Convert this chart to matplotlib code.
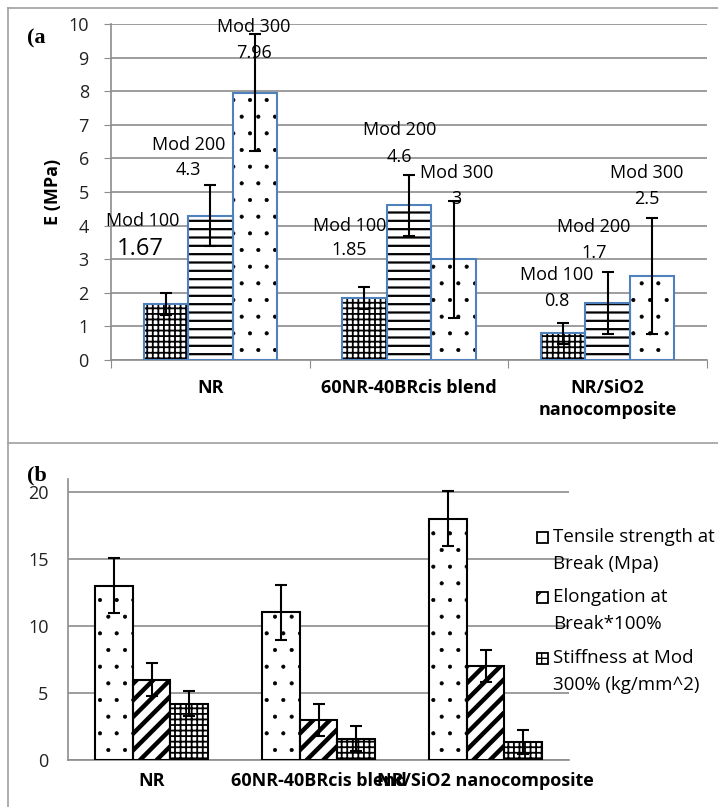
import numpy as np
import matplotlib.pyplot as plt
from matplotlib.patches import Rectangle
from matplotlib.lines import Line2D

plt.rcParams['font.family'] = ['Open Sans', 'DejaVu Sans']

W, H = 718, 807

# (a) 模量数据
groups_a = ['NR', '60NR-40BRcis blend', 'NR/SiO2\nnanocomposite']
mod_names = ['Mod 100', 'Mod 200', 'Mod 300']
mod100 = [1.67, 1.85, 0.8]
mod200 = [4.3, 4.6, 1.7]
mod300 = [7.96, 3, 2.5]
mod100_err = [0.32, 0.32, 0.31]
mod200_err = [0.92, 0.92, 0.92]
mod300_err = [1.75, 1.74, 1.74]
mod_values = ['1.67', '1.85', '0.8', '4.3', '4.6', '1.7', '7.96', '3', '2.5']

# (b) 拉伸数据
groups_b = ['NR', '60NR-40BRcis blend', 'NR/SiO2 nanocomposite']
tensile = [13, 11, 18]
elong = [6, 3, 7]
stiff = [4.2, 1.6, 1.35]
tensile_err = [2.07, 2.07, 2.07]
elong_err = [1.2, 1.2, 1.2]
stiff_err = [0.93, 0.93, 0.9]
legend_b = [['Tensile strength at', 'Break (Mpa)'], ['Elongation at', 'Break*100%'],
            ['Stiffness at Mod', '300% (kg/mm^2)']]

# label placement for (a): (x name, y name, x value, y value), order series-major
lab_pos = [(-0.34, 4.14, -0.354, 3.3), (0.70, 3.99, 0.70, 3.27), (1.744, 2.53, 1.744, 1.76),
           (-0.11, 6.4, -0.11, 5.65), (0.954, 6.85, 0.954, 6.04), (1.93, 3.96, 1.93, 3.18),
           (0.22, 9.91, 0.22, 9.14), (1.24, 5.57, 1.24, 4.79), (2.197, 5.57, 2.197, 4.79)]

grid_c = '#8c8c8c'
blue = '#4F81BD'
bw = 0.224
offs = [-bw, 0, bw]


def hatched_bar(ax, x, y, hatch, edge, hlw, lw):
    bars = ax.bar(x, y, bw, color='white', edgecolor='black', hatch=hatch, linewidth=0, zorder=2)
    for b in bars:
        try:
            b.set_hatch_linewidth(hlw)
        except AttributeError:
            pass
    ax.bar(x, y, bw, color='none', edgecolor=edge, linewidth=lw, zorder=3)


fig = plt.figure(figsize=(W / 100, H / 100), dpi=100)

# 边框
fig.add_artist(Line2D([8 / W, 8 / W], [0, 1 - 8 / H], color='#a0a0a0', lw=1.2))
fig.add_artist(Line2D([8 / W, 1], [1 - 8 / H, 1 - 8 / H], color='#a0a0a0', lw=1.2))
fig.add_artist(Line2D([8 / W, 1], [1 - 443 / H, 1 - 443 / H], color='#a0a0a0', lw=1.2))

# ---------- (a) ----------
ax1 = fig.add_axes([111 / W, 1 - 360 / H, 596 / W, 336 / H])
x = np.arange(3)
for i, (vals, err, h, hl) in enumerate(zip([mod100, mod200, mod300],
                                           [mod100_err, mod200_err, mod300_err],
                                           ['+++', '--', '.'], [1.3, 1.6, 0.5])):
    hatched_bar(ax1, x + offs[i], vals, h, blue, hl, 1.5)
    ax1.errorbar(x + offs[i], vals, yerr=err, fmt='none', ecolor='black',
                 elinewidth=1.5, capsize=4, capthick=1.5, zorder=4)

for k, (xn, yn, xv, yv) in enumerate(lab_pos):
    ax1.text(xn, yn, mod_names[k // 3], ha='center', va='center', fontsize=13, zorder=5)
    fs = 17 if k == 0 else 13
    ax1.text(xv, yv, mod_values[k], ha='center', va='center', fontsize=fs, zorder=5)

ax1.set_xlim(-0.5, 2.5)
ax1.set_ylim(0, 10)
ax1.set_yticks(range(0, 11))
ax1.yaxis.grid(True, color=grid_c, lw=1.2)
ax1.set_axisbelow(True)
ax1.set_xticks([-0.5, 0.5, 1.5, 2.5])
ax1.set_xticklabels([])
ax1.set_xticks(x, minor=True)
ax1.set_xticklabels(groups_a, minor=True, fontweight='bold', fontsize=13, va='top',
                    linespacing=1.25)
ax1.tick_params(axis='x', which='minor', length=0, pad=14)
ax1.tick_params(axis='x', which='major', length=6, color=grid_c)
ax1.tick_params(axis='y', length=5, color=grid_c, labelsize=13, pad=11, labelcolor='#222222')
for s in ['top', 'right']:
    ax1.spines[s].set_visible(False)
for s in ['left', 'bottom']:
    ax1.spines[s].set_color(grid_c)
    ax1.spines[s].set_linewidth(1.2)
ax1.text(-0.097, 0.5, 'E (MPa)', transform=ax1.transAxes, rotation=90,
         ha='center', va='center', fontweight='bold', fontsize=13)
fig.text(27 / W, 1 - 38 / H, '(a', family='Liberation Serif', fontweight='bold',
         fontsize=16, va='center', ha='left')

# ---------- (b) ----------
ax2 = fig.add_axes([68 / W, 1 - 760 / H, 501 / W, 281 / H])
for i, (vals, err, h, hl) in enumerate(zip([tensile, elong, stiff],
                                           [tensile_err, elong_err, stiff_err],
                                           ['.', '//', '+++'], [0.5, 3.2, 1.3])):
    hatched_bar(ax2, x + offs[i], vals, h, 'black', hl, 1.5)
    ax2.errorbar(x + offs[i], vals, yerr=err, fmt='none', ecolor='black',
                 elinewidth=1.5, capsize=4, capthick=1.5, zorder=4)

ax2.set_xlim(-0.5, 2.5)
ax2.set_ylim(0, 20.95)
ax2.set_yticks([0, 5, 10, 15, 20])
ax2.yaxis.grid(True, color=grid_c, lw=1.2)
ax2.set_axisbelow(True)
ax2.set_xticks(x)
ax2.set_xticklabels(groups_b, fontweight='bold', fontsize=13)
ax2.tick_params(axis='x', length=0, pad=9)
ax2.tick_params(axis='y', length=0, labelsize=13, pad=14, labelcolor='#222222')
for s in ['top', 'right']:
    ax2.spines[s].set_visible(False)
for s in ['left', 'bottom']:
    ax2.spines[s].set_color(grid_c)
    ax2.spines[s].set_linewidth(1.2)
fig.text(27 / W, 1 - 475 / H, '(b', family='Liberation Serif', fontweight='bold',
         fontsize=16, va='center', ha='left')

# 图例
leg_y = [537, 597, 658]
leg_h = ['', '//', '+']
for lines, yy, h in zip(legend_b, leg_y, leg_h):
    r = Rectangle((537 / W, 1 - (yy + 6) / H), 11 / W, 11 / H, transform=fig.transFigure,
                  facecolor='white', edgecolor='black', lw=1.3, hatch=h)
    fig.add_artist(r)
    for j, t in enumerate(lines):
        fig.text(553 / W, 1 - (yy + 27 * j) / H, t, fontsize=13.5, va='center', ha='left')

fig.savefig('out.png', dpi=100)
